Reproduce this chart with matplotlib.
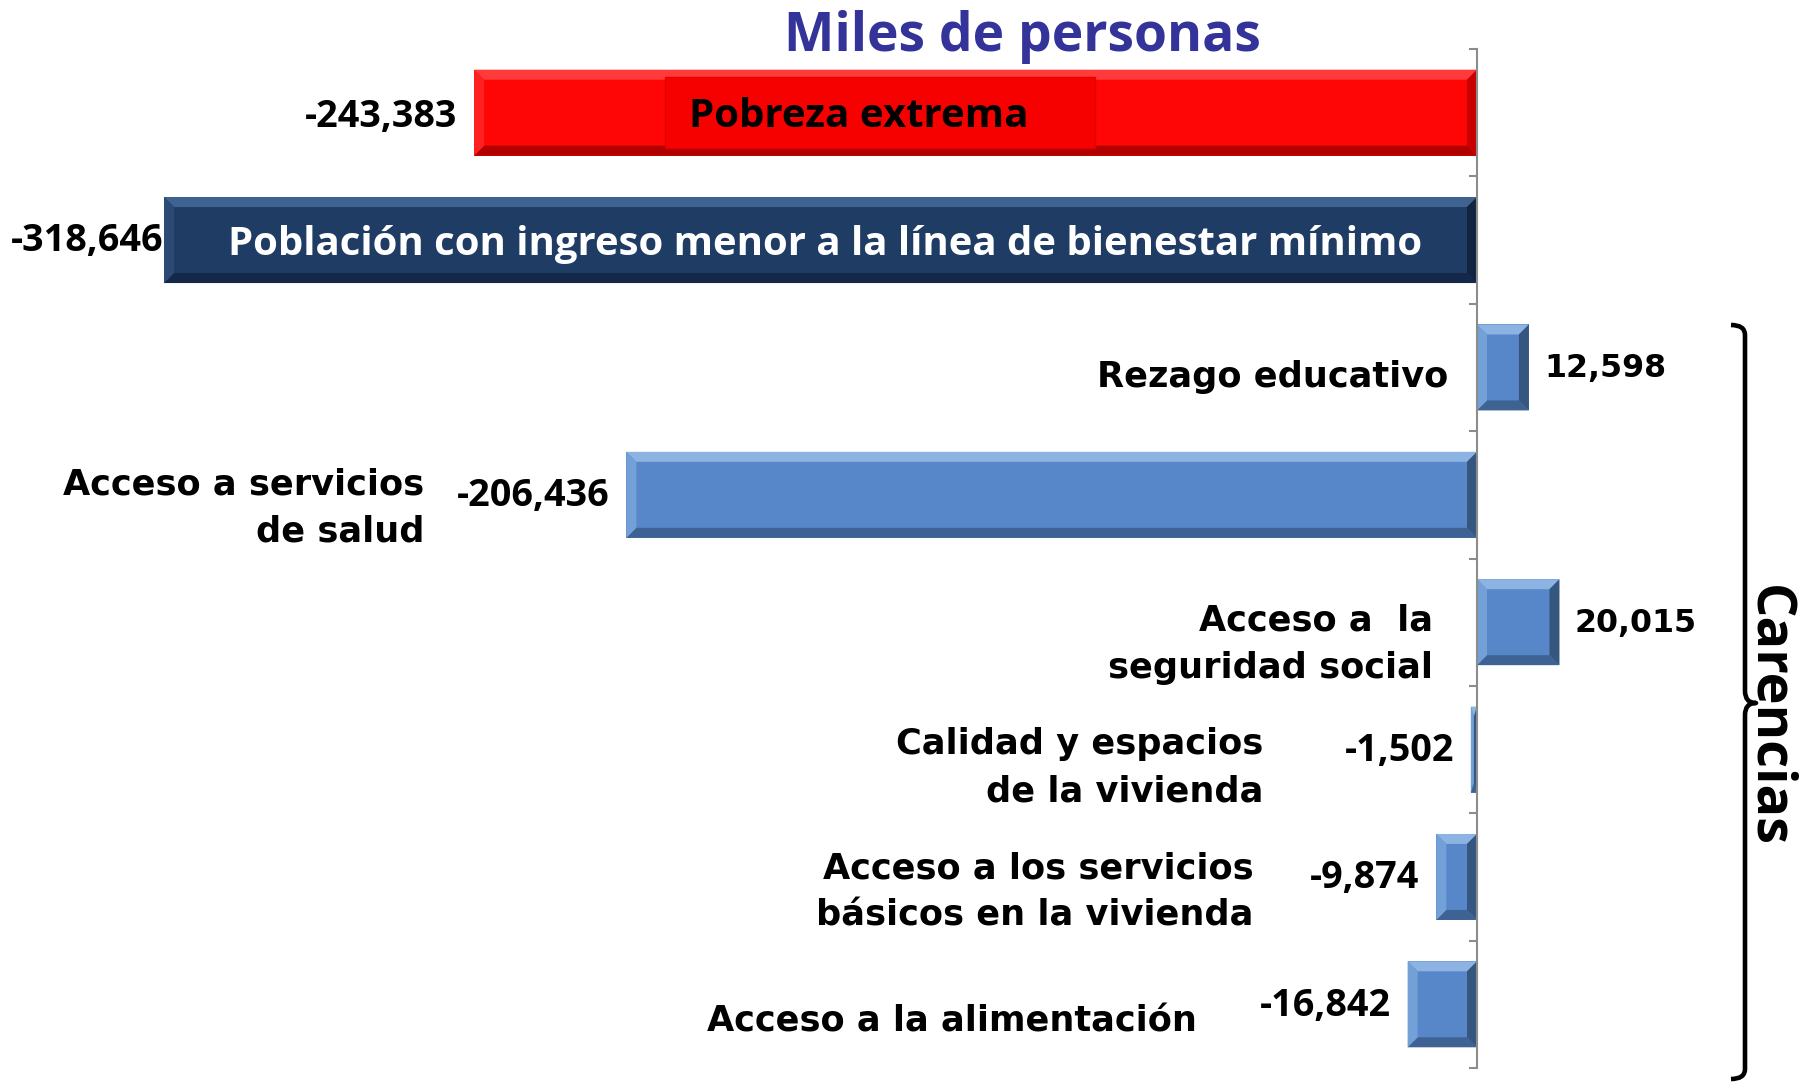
import matplotlib
matplotlib.use("Agg")
import matplotlib.pyplot as plt
from matplotlib.path import Path
from matplotlib.patches import PathPatch, Polygon, Rectangle
import numpy as np

# ---------------- data ----------------
categories = [
    "Pobreza extrema",
    "Población con ingreso menor a la línea de bienestar mínimo",
    "Rezago educativo",
    "Acceso a servicios\nde salud",
    "Acceso a  la\nseguridad social",
    "Calidad y espacios\nde la vivienda",
    "Acceso a los servicios\nbásicos en la vivienda",
    "Acceso a la alimentación",
]
values = [-243383, -318646, 12598, -206436, 20015, -1502, -9874, -16842]
value_labels = ["-243,383", "-318,646", "12,598", "-206,436", "20,015", "-1,502", "-9,874", "-16,842"]
title = "Miles de personas"
group_label = "Carencias"

# ---------------- styles / layout ----------------
W, H, DPI = 1800, 1083, 100
fig = plt.figure(figsize=(W / DPI, H / DPI), dpi=DPI)
fig.patch.set_facecolor("white")

ax = fig.add_axes([0, 1 - 1068 / H, 1, (1068 - 49) / H])
px_per_unit = (1477 - 164) / 318646.0
ax.set_xlim(-1477 / px_per_unit, (W - 1477) / px_per_unit)
n = len(values)
ax.set_ylim(n - 0.5, -0.5)
row_px = (1068 - 49) / n

VERDANA = "DejaVu Sans"
TAHOMA = "Open Sans"

palettes = {
    "red":  dict(face="#FF0606", top="#FF3A3A", left="#FF2020", right="#C80000", bottom="#B00000"),
    "navy": dict(face="#1F3C64", top="#3F6390", left="#2B4A75", right="#12233F", bottom="#14284A"),
    "blue": dict(face="#5787C8", top="#8DB3E2", left="#74A0D8", right="#34567F", bottom="#3E6293"),
}
bar_colors = ["red", "navy"] + ["blue"] * 6
bar_h = 0.675
bev_px = 10

ypos = np.arange(n)
for i, (v, c) in enumerate(zip(values, bar_colors)):
    pal = palettes[c]
    ax.barh(ypos[i], v, height=bar_h, color=pal["face"], edgecolor="none", zorder=2)
    x0, x1 = min(0, v), max(0, v)
    top, bot = ypos[i] - bar_h / 2, ypos[i] + bar_h / 2
    bx = min(bev_px / px_per_unit, (x1 - x0) / 2)
    by = bev_px / row_px
    facets = [
        ([(x0, top), (x1, top), (x1 - bx, top + by), (x0 + bx, top + by)], pal["top"]),
        ([(x0, bot), (x1, bot), (x1 - bx, bot - by), (x0 + bx, bot - by)], pal["bottom"]),
        ([(x0, top), (x0 + bx, top + by), (x0 + bx, bot - by), (x0, bot)], pal["left"]),
        ([(x1, top), (x1 - bx, top + by), (x1 - bx, bot - by), (x1, bot)], pal["right"]),
    ]
    for pts, col in facets:
        ax.add_patch(Polygon(pts, closed=True, fc=col, ec="none", zorder=3))

# axis line at zero with boundary ticks
for s in ["top", "right", "bottom"]:
    ax.spines[s].set_visible(False)
ax.spines["left"].set_position(("data", 0))
ax.spines["left"].set_color("#8C8C8C")
ax.spines["left"].set_linewidth(1.5)
ax.spines["left"].set_zorder(4)
ax.set_yticks(np.arange(-0.5, n, 1.0))
ax.set_yticklabels([])
ax.tick_params(axis="y", direction="out", length=6, width=1.5, color="#8C8C8C")
ax.set_xticks([])

# value labels
val_offsets = [(-12, -3), (0, -1), (11, -1), (-12, -1), (11, -1), (-12, -1), (-12, -1), (-12, -1)]
for i, (v, lab, off) in enumerate(zip(values, value_labels, val_offsets)):
    pos = v >= 0
    ax.annotate(lab, xy=(v, ypos[i]), xytext=off, textcoords="offset points",
                ha="left" if pos else "right", va="center",
                fontsize=22.8 if pos else 27.2, fontweight="bold",
                family=VERDANA if pos else TAHOMA, color="black", zorder=5)

# in-bar labels
lab_x0 = values[0] * 0.616
box_w = 430 / px_per_unit
box_h = 71 / row_px
box_cx = lab_x0 + 21 / px_per_unit
ax.add_patch(Rectangle((box_cx - box_w / 2, ypos[0] - box_h / 2), box_w, box_h,
                       fc="#F70000", ec="#E40000", lw=1, zorder=4))
ax.annotate(categories[0], xy=(lab_x0, ypos[0]), xytext=(0, -3), textcoords="offset points",
            ha="center", va="center",
            fontsize=29, fontweight="bold", family=TAHOMA, color="black", zorder=6)
ax.annotate(categories[1], xy=(values[1] * 0.4965, ypos[1]), xytext=(0, -3), textcoords="offset points",
            ha="center", va="center",
            fontsize=28.9, fontweight="bold", family=TAHOMA, color="white", zorder=6)

# category labels placed relative to the zero axis
cat_offsets = [None, None, (-20.7, -7), (-758, -9.5), (-32, -16), (-154, -13), (-161, -11), (-202, -12.5)]
for i in range(2, n):
    ax.annotate(categories[i], xy=(0, ypos[i]), xytext=cat_offsets[i], textcoords="offset points",
                ha="right", va="center", ma="right", fontsize=25.3, fontweight="bold",
                family=VERDANA, color="black", linespacing=1.5, zorder=5)

# title
fig.text(1022 / W, 1 - 37 / H, title, ha="center", va="center", fontsize=38.5,
         fontweight="bold", family=TAHOMA, color="#333399")

# curly brace for "Carencias"
def fx(x):
    return x / W
def fy(y):
    return 1 - y / H
xl, xs, xt = 1745, 1731, 1756
y0, ym, y1 = 325, 703, 1079
verts = [
    (xs, y0), (xl, y0), (xl, y0 + 10),
    (xl, ym - 12),
    (xl, ym), (xt, ym),
    (xl, ym), (xl, ym + 12),
    (xl, y1 - 10),
    (xl, y1), (xs, y1),
]
codes = [Path.MOVETO, Path.CURVE3, Path.CURVE3, Path.LINETO,
         Path.CURVE3, Path.CURVE3, Path.CURVE3, Path.CURVE3, Path.LINETO,
         Path.CURVE3, Path.CURVE3]
brace = Path([(fx(a), fy(b)) for a, b in verts], codes)
fig.patches.append(PathPatch(brace, transform=fig.transFigure, fill=False, lw=3.3,
                             ec="black", capstyle="butt", joinstyle="round"))
fig.text(1768 / W, 1 - 716 / H, group_label, rotation=-90, ha="center", va="center",
         fontsize=39, fontweight="bold", family=TAHOMA, color="black")

fig.savefig("out.png", dpi=DPI, facecolor="white")
